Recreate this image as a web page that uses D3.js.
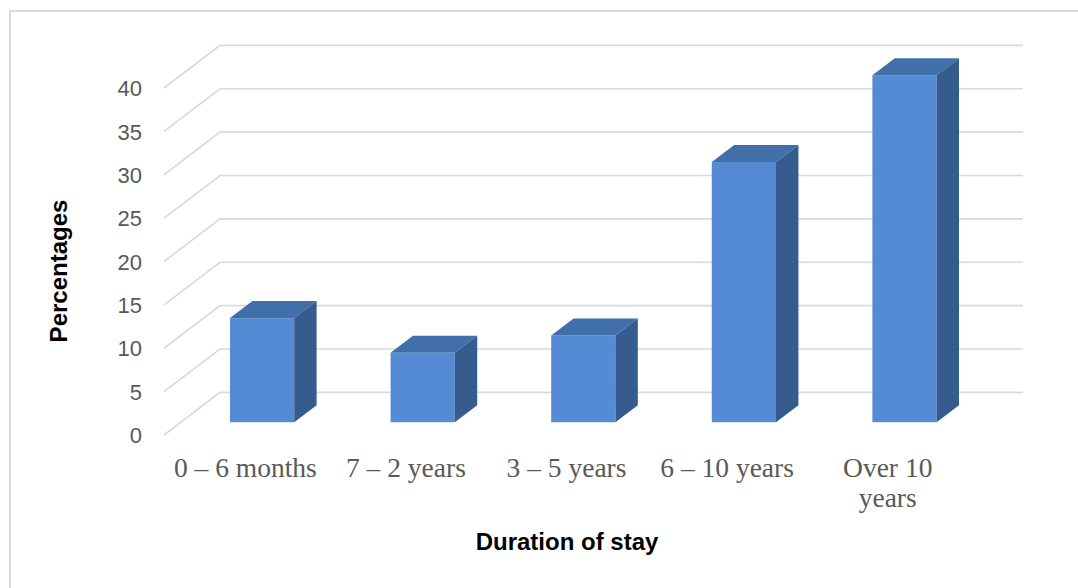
<!DOCTYPE html>
<html>
<head>
  <title>Duration of stay</title>
  <script type="text/javascript" src="https://d3js.org/d3.v7.min.js"></script>
  <style>
    body { margin: 0; background: #fff; }
    .tick-label { font-family: "Liberation Sans", Arial, sans-serif; font-size: 22px; fill: #595959; }
    .cat-label { font-family: "Liberation Serif", "Times New Roman", serif; font-size: 27.5px; fill: #595959; }
    .axis-title { font-family: "Liberation Sans", Arial, sans-serif; font-size: 24px; font-weight: bold; fill: #000; }
  </style>
</head>
<body>
<svg id="chart"></svg>

<script type="text/javascript">

    const categories = ["0 – 6 months", "7 – 2 years", "3 – 5 years", "6 – 10 years", "Over 10 years"];
    const percentages = [12, 8, 10, 30, 40];
    const yTicks = [0, 5, 10, 15, 20, 25, 30, 35, 40];

    const width = 1078, height = 588;

    // 3d look: floor depth vector, bars sit in the middle of it
    const depth = {dx: 56, dy: -42.6};
    const barFront = 0.3, barDepth = 0.4;

    const svg = d3.select("#chart")
        .attr("width", width)
        .attr("height", height);

    // outer border (only top and left show)
    svg.append("path")
        .attr("d", "M10,588 L10,11 L1078,11")
        .attr("fill", "none")
        .attr("stroke", "#d9d9d9")
        .attr("stroke-width", 2);

    const xScale = d3.scaleBand()
        .domain(categories)
        .range([165, 968])
        .paddingInner(0.6)
        .paddingOuter(0.3);

    const yScale = d3.scaleLinear()
        .domain([0, 40])
        .range([435, 88]);

    // gridlines: diagonal on the side wall, then flat on the back wall
    svg.append("g")
        .selectAll("path")
        .data(yTicks)
        .join("path")
        .attr("d", d => {
            const y0 = yScale(d);
            return "M164," + y0 + " L" + (164 + depth.dx) + "," + (y0 + depth.dy) +
                " L1023," + (y0 + depth.dy);
        })
        .attr("fill", "none")
        .attr("stroke", "#d9d9d9")
        .attr("stroke-width", 1.6);

    // y tick labels
    const yAxis = d3.axisLeft(yScale)
        .tickValues(yTicks)
        .tickSize(0)
        .tickPadding(0);

    svg.append("g")
        .attr("transform", "translate(142,0)")
        .call(yAxis)
        .call(g => g.select(".domain").remove())
        .selectAll("text")
        .attr("class", "tick-label")
        .attr("font-size", null)
        .attr("font-family", null)
        .attr("fill", null)
        .attr("dy", "0.35em");

    // bars
    const ox = barFront * depth.dx, oy = barFront * depth.dy;
    const sx = barDepth * depth.dx, sy = barDepth * depth.dy;
    const bw = xScale.bandwidth();

    const bars = svg.append("g")
        .selectAll("g")
        .data(categories.map((c, i) => ({cat: c, value: percentages[i]})))
        .join("g");

    bars.append("rect")
        .attr("x", d => xScale(d.cat) + ox)
        .attr("y", d => yScale(d.value) + oy)
        .attr("width", bw)
        .attr("height", d => yScale(0) - yScale(d.value))
        .attr("fill", "#558bd5");

    bars.append("polygon")
        .attr("points", d => {
            const x = xScale(d.cat) + ox, y = yScale(d.value) + oy;
            return [[x, y], [x + bw, y], [x + bw + sx, y + sy], [x + sx, y + sy]].join(" ");
        })
        .attr("fill", "#416fa9");

    bars.append("polygon")
        .attr("points", d => {
            const x = xScale(d.cat) + ox + bw, y = yScale(d.value) + oy, yb = yScale(0) + oy;
            return [[x, y], [x + sx, y + sy], [x + sx, yb + sy], [x, yb]].join(" ");
        })
        .attr("fill", "#355c8d");

    // category labels, long one wraps
    const xAxis = d3.axisBottom(xScale).tickSize(0).tickPadding(0);
    const xg = svg.append("g")
        .call(xAxis);
    xg.select(".domain").remove();
    xg.selectAll("text").each(function(d) {
        const t = d3.select(this)
            .attr("class", "cat-label")
            .attr("font-size", null)
            .attr("font-family", null)
            .attr("fill", null)
            .attr("y", 477)
            .attr("dy", null)
            .text(null);
        const lines = d == "Over 10 years" ? ["Over 10", "years"] : [d];
        lines.forEach((l, i) => {
            t.append("tspan")
                .attr("x", 0)
                .attr("dy", i == 0 ? 0 : 30)
                .text(l);
        });
    });

    // axis titles
    svg.append("text")
        .attr("class", "axis-title")
        .attr("text-anchor", "middle")
        .attr("transform", "translate(67,271) rotate(-90)")
        .text("Percentages");

    svg.append("text")
        .attr("class", "axis-title")
        .attr("text-anchor", "middle")
        .attr("x", 567)
        .attr("y", 550)
        .text("Duration of stay");

</script>
</body>
</html>
